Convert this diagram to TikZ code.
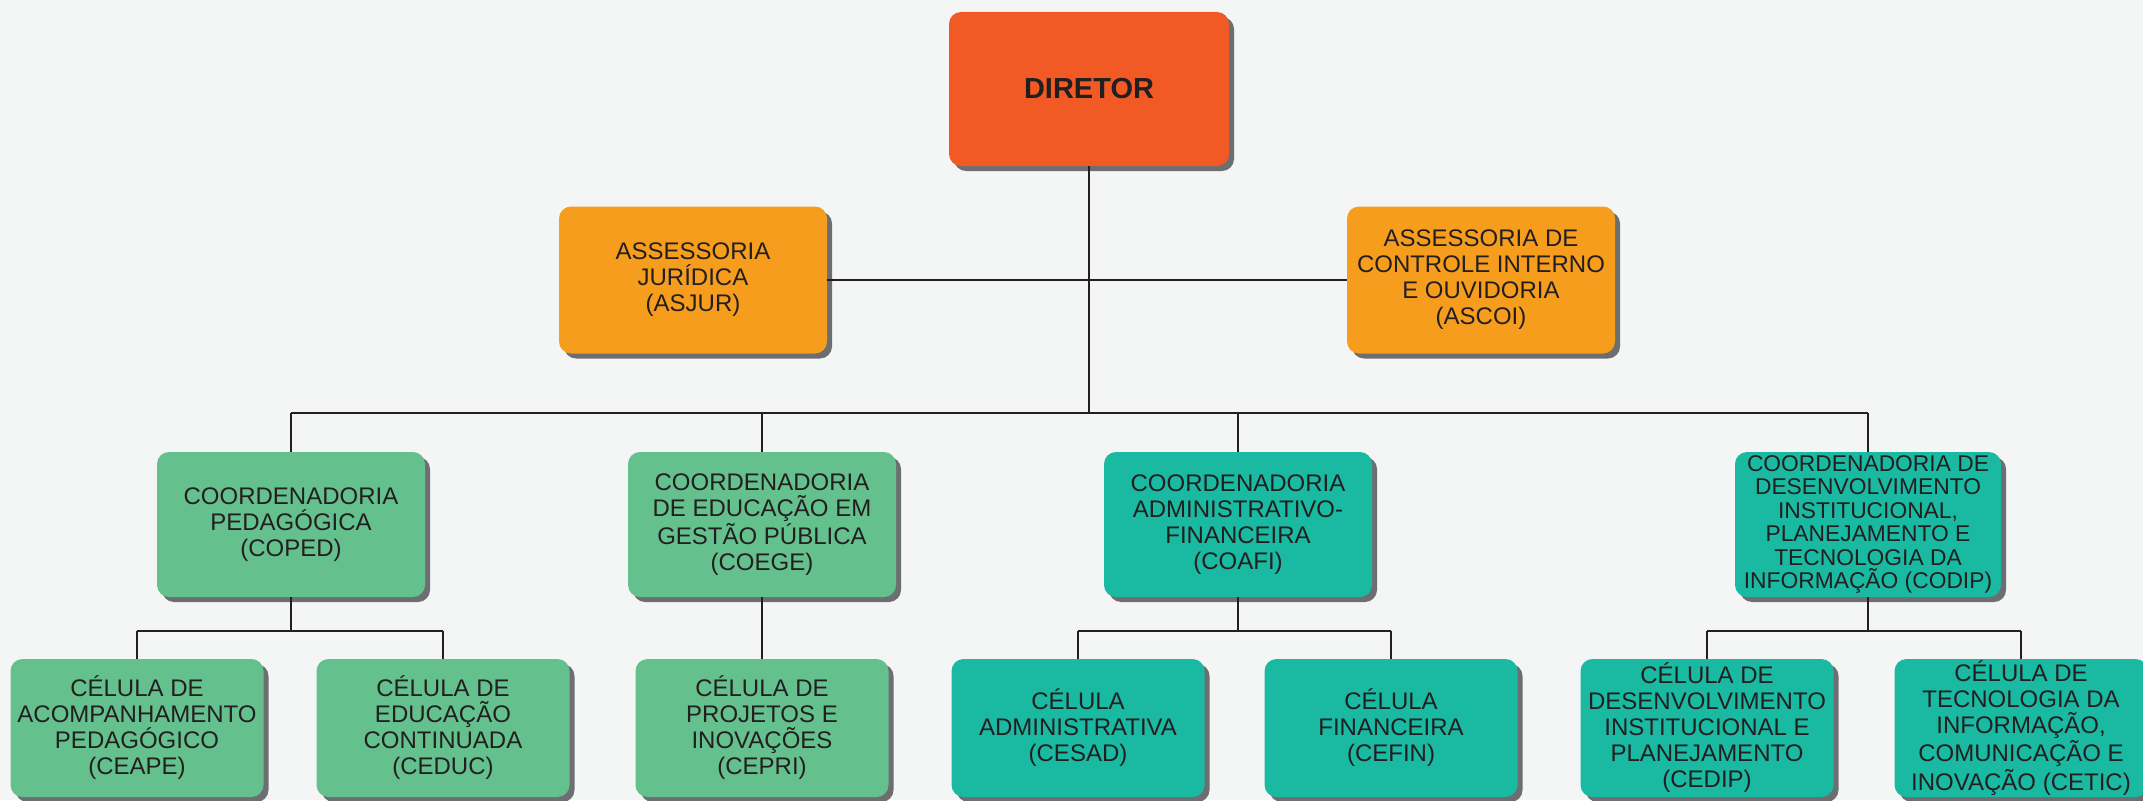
\documentclass[tikz,border=0pt]{standalone}
\usepackage{fontspec}
\setmainfont{Liberation Sans}
\usetikzlibrary{shadows}

\definecolor{bgcol}{HTML}{F4F6F6}
\definecolor{dircol}{HTML}{F15A24}
\definecolor{asscol}{HTML}{F79D1E}
\definecolor{pedcol}{HTML}{64C18D}
\definecolor{admcol}{HTML}{1AB9A2}
\definecolor{shadecol}{HTML}{6D6E71}
\definecolor{inkcol}{HTML}{231F20}

\begin{document}
\begin{tikzpicture}[x=0.5pt,y=0.5pt,
  box/.style={rounded corners=6pt, text=inkcol, align=center, inner sep=0pt,
    general shadow={fill=shadecol, shadow xshift=2.5pt, shadow yshift=-2.5pt},
    font=\fontsize{12}{13}\selectfont},
  chief/.style={box, fill=dircol, minimum width=140pt, minimum height=77pt,
    font=\fontsize{14.5}{16}\selectfont\bfseries},
  advisory/.style={box, fill=asscol, minimum width=134pt, minimum height=73.5pt},
  coord/.style={box, minimum width=134pt, minimum height=72.5pt},
  cell/.style={box, minimum width=126.5pt, minimum height=69pt},
  wire/.style={draw=inkcol, line width=1.3pt}]
  \fill[bgcol] (0,0) rectangle (2143,800);
  \useasboundingbox (0,0) rectangle (2143,800);

  \node[chief] (dir) at (1089,711) {DIRETOR};
  \node[advisory] (asjur) at (693,520) {ASSESSORIA\\JURÍDICA\\(ASJUR)};
  \node[advisory] (ascoi) at (1481,520) {ASSESSORIA DE\\CONTROLE INTERNO\\E OUVIDORIA\\(ASCOI)};

  % coordenadorias
  \node[coord, fill=pedcol] (coped) at (291,275.5) {COORDENADORIA\\PEDAGÓGICA\\(COPED)};
  \node[coord, fill=pedcol] (coege) at (762,275.5) {COORDENADORIA\\DE EDUCAÇÃO EM\\GESTÃO PÚBLICA\\(COEGE)};
  \node[coord, fill=admcol] (coafi) at (1238,275.5) {COORDENADORIA\\ADMINISTRATIVO-\\FINANCEIRA\\(COAFI)};
  \node[coord, fill=admcol, minimum width=133pt, font=\fontsize{11.4}{11.75}\selectfont] (codip) at (1868,275.5)
    {COORDENADORIA DE\\DESENVOLVIMENTO\\INSTITUCIONAL,\\PLANEJAMENTO E\\TECNOLOGIA DA\\INFORMAÇÃO (CODIP)};

  % celulas
  \node[cell, fill=pedcol] (ceape) at (137,72) {CÉLULA DE\\ACOMPANHAMENTO\\PEDAGÓGICO\\(CEAPE)};
  \node[cell, fill=pedcol] (ceduc) at (443,72) {CÉLULA DE\\EDUCAÇÃO\\CONTINUADA\\(CEDUC)};
  \node[cell, fill=pedcol] (cepri) at (762,72) {CÉLULA DE\\PROJETOS E\\INOVAÇÕES\\(CEPRI)};
  \node[cell, fill=admcol] (cesad) at (1078,72) {CÉLULA\\ADMINISTRATIVA\\(CESAD)};
  \node[cell, fill=admcol] (cefin) at (1391,72) {CÉLULA\\FINANCEIRA\\(CEFIN)};
  \node[cell, fill=admcol] (cedip) at (1707,72) {CÉLULA DE\\DESENVOLVIMENTO\\INSTITUCIONAL E\\PLANEJAMENTO\\(CEDIP)};
  \node[cell, fill=admcol] (cetic) at (2021,72) {CÉLULA DE\\TECNOLOGIA DA\\INFORMAÇÃO,\\COMUNICAÇÃO E\\INOVAÇÃO (CETIC)};

  \coordinate (bus) at (1089,387);
  \coordinate (sub) at (0,169);

  \path[wire]
    (dir) edge (dir |- bus)
    (asjur) edge (ascoi)
    (coped.north |- bus) edge (codip.north |- bus)
    (coped.north |- bus) edge (coped)
    (coege.north |- bus) edge (coege)
    (coafi.north |- bus) edge (coafi)
    (codip.north |- bus) edge (codip);
  \path[wire]
    (coped) edge (coped |- sub)
    (ceape.north |- sub) edge (ceduc.north |- sub)
    (ceape.north |- sub) edge (ceape)
    (ceduc.north |- sub) edge (ceduc)
    (coege) edge (cepri)
    (coafi) edge (coafi |- sub)
    (cesad.north |- sub) edge (cefin.north |- sub)
    (cesad.north |- sub) edge (cesad)
    (cefin.north |- sub) edge (cefin)
    (codip) edge (codip |- sub)
    (cedip.north |- sub) edge (cetic.north |- sub)
    (cedip.north |- sub) edge (cedip)
    (cetic.north |- sub) edge (cetic);
\end{tikzpicture}
\end{document}
